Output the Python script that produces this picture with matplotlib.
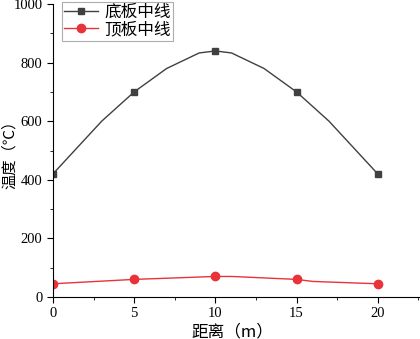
import matplotlib
matplotlib.use('Agg')
from matplotlib import pyplot as plt
from matplotlib.ticker import MultipleLocator

plt.rcParams['font.family'] = ['Liberation Serif', 'Noto Sans CJK SC']

# data
x_bottom = [0, 3, 5, 7, 9, 10, 11, 13, 15, 17, 20]
y_bottom = [420, 600, 700, 780, 833, 840, 833, 780, 700, 600, 420]
x_bottom_mark = [0, 5, 10, 15, 20]
y_bottom_mark = [420, 700, 840, 700, 420]

x_top = [0, 5, 10, 11, 15, 16, 20]
y_top = [45, 60, 70, 70, 60, 53, 45]
x_top_mark = [0, 5, 10, 15, 20]
y_top_mark = [45, 60, 70, 60, 45]

fig = plt.figure(figsize=(4.2, 3.39), dpi=100)
ax = fig.add_axes([0.126, 0.124, 0.874, 0.864])

c1 = '#404040'
c2 = '#e8333a'
ax.plot(x_bottom, y_bottom, color=c1, lw=1)
ax.plot(x_bottom_mark, y_bottom_mark, 's', color=c1, ms=5)
ax.plot(x_top, y_top, color=c2, lw=1)
ax.plot(x_top_mark, y_top_mark, 'o', color=c2, ms=6)

# legend handles
h1, = ax.plot([], [], '-s', color=c1, lw=1, ms=5)
h2, = ax.plot([], [], '-o', color=c2, lw=1, ms=6)
leg = ax.legend([h1, h2], ['底板中线', '顶板中线'], loc='upper left',
                bbox_to_anchor=(0.015, 1.02), fancybox=False,
                borderpad=0.15, labelspacing=0.0, handlelength=2.0,
                handletextpad=0.4, borderaxespad=0.2,
                prop={'family': ['Noto Sans CJK SC'], 'size': 12})
leg.get_frame().set_edgecolor('#999999')
leg.get_frame().set_linewidth(0.8)

ax.set_xlim(0, 22.6)
ax.set_ylim(0, 1000)
ax.xaxis.set_major_locator(MultipleLocator(5))
ax.xaxis.set_minor_locator(MultipleLocator(2.5))
ax.yaxis.set_major_locator(MultipleLocator(200))
ax.yaxis.set_minor_locator(MultipleLocator(100))
ax.tick_params(which='major', length=4, labelsize=10.5)
ax.tick_params(which='minor', length=2)
ax.spines['top'].set_visible(False)
ax.spines['right'].set_visible(False)

ax.set_xlabel('距离（m）', fontsize=12, family=['Noto Sans CJK SC'])
ax.set_ylabel('温度（℃）', fontsize=11, family=['Noto Sans CJK SC'])
ax.xaxis.set_label_coords(0.49, -0.09)
ax.yaxis.set_label_coords(-0.095, 0.5)

fig.savefig('out.png', dpi=100)
